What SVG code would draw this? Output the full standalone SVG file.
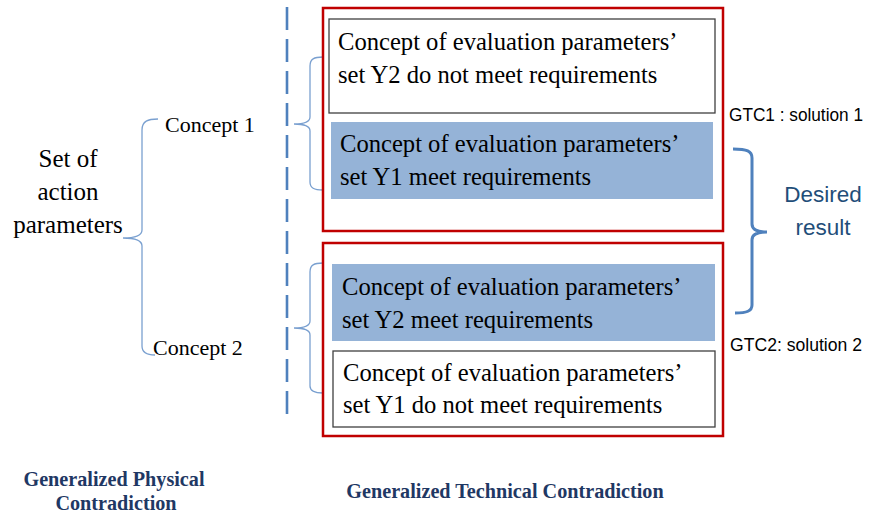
<svg xmlns="http://www.w3.org/2000/svg" width="869" height="515" viewBox="0 0 869 515">
<style>
.serif{font-family:"Liberation Serif","Times New Roman",serif;fill:#000}
.box{font-size:24.6px}
.sans{font-family:"Liberation Sans",Arial,sans-serif}
.red{fill:none;stroke:#c00000;stroke-width:2.5}
.white{fill:#fff;stroke:#404040;stroke-width:1.3}
.blue{fill:#95b3d7;stroke:none}
.brace{fill:none;stroke:#7aa0d0;stroke-width:1.3}
.bigbrace{fill:none;stroke:#4f81bd;stroke-width:3}
.caption{font-family:"Liberation Serif","Times New Roman",serif;font-weight:bold;font-size:20.2px;fill:#1f3864}
</style>
<rect width="869" height="515" fill="#fff"/>
<g id="connectors">
<line x1="287" y1="7" x2="287" y2="414" stroke="#4f81bd" stroke-width="2.6" stroke-dasharray="23 9"/>
<path class="brace" d="M158,119 C148,119 142,121 142,130 L142,230 C142,236 135,238 123,238 C135,238 142,240 142,246 L142,346 C142,352 147,355 155,355"/>
<path class="brace" d="M323,57 C314,57 310,59 310,66 L310,117 C310,122 303,124 294,124 C303,124 310,126 310,131 L310,182 C310,188 314,190 323,190"/>
<path class="brace" d="M323,263 C314,263 310,265 310,272 L310,321 C310,326 303,328 294,328 C303,328 310,330 310,335 L310,386 C310,391 314,393 323,393"/>
<path class="bigbrace" d="M733,149 C747,149 752,151 752,158 L752,224 C752,230 757,232 767,232 C757,232 752,234 752,240 L752,305 C752,311 747,313 735,313"/>
</g>
<g id="action-set">
<text class="serif" font-size="25" text-anchor="middle" x="68" y="167">Set of</text>
<text class="serif" font-size="25" text-anchor="middle" x="68" y="200">action</text>
<text class="serif" font-size="25" text-anchor="middle" x="68" y="233">parameters</text>
</g>
<g id="concept1"><text class="serif" font-size="22" x="165" y="132">Concept 1</text></g>
<g id="concept2"><text class="serif" font-size="22" x="153" y="355">Concept 2</text></g>
<g id="gtc1">
<rect class="red" x="323" y="8" width="400" height="223"/>
</g>
<g id="y2-not-meet">
<rect class="white" x="329" y="19" width="386" height="94"/>
<text class="serif box" x="338" y="50">Concept of evaluation parameters’</text>
<text class="serif box" x="338" y="83">set Y2 do not meet requirements</text>
</g>
<g id="y1-meet">
<rect class="blue" x="331" y="122" width="382" height="77"/>
<text class="serif box" x="340" y="152">Concept of evaluation parameters’</text>
<text class="serif box" x="340" y="185">set Y1 meet requirements</text>
</g>
<g id="gtc2">
<rect class="red" x="323" y="243" width="400" height="193"/>
</g>
<g id="y2-meet">
<rect class="blue" x="332" y="264" width="383" height="77"/>
<text class="serif box" x="342" y="295">Concept of evaluation parameters’</text>
<text class="serif box" x="342" y="328">set Y2 meet requirements</text>
</g>
<g id="y1-not-meet">
<rect class="white" x="333" y="351" width="382" height="76"/>
<text class="serif box" x="343" y="381">Concept of evaluation parameters’</text>
<text class="serif box" x="343" y="413">set Y1 do not meet requirements</text>
</g>
<g id="gtc1-label"><text class="sans" font-size="18" x="729" y="121" fill="#000" textLength="134" lengthAdjust="spacingAndGlyphs">GTC1 : solution 1</text></g>
<g id="gtc2-label"><text class="sans" font-size="18" x="730" y="351" fill="#000" textLength="132" lengthAdjust="spacingAndGlyphs">GTC2: solution 2</text></g>
<g id="desired">
<text class="sans" font-size="22.5" text-anchor="middle" x="823" y="202" fill="#1f4e79">Desired</text>
<text class="sans" font-size="22.5" text-anchor="middle" x="823" y="235" fill="#1f4e79">result</text>
</g>
<g id="gpc-caption">
<text class="caption" text-anchor="middle" x="114" y="486">Generalized Physical</text>
<text class="caption" text-anchor="middle" x="116" y="510">Contradiction</text>
</g>
<g id="gtc-caption">
<text class="caption" text-anchor="middle" x="505" y="498">Generalized Technical Contradiction</text>
</g>
</svg>
